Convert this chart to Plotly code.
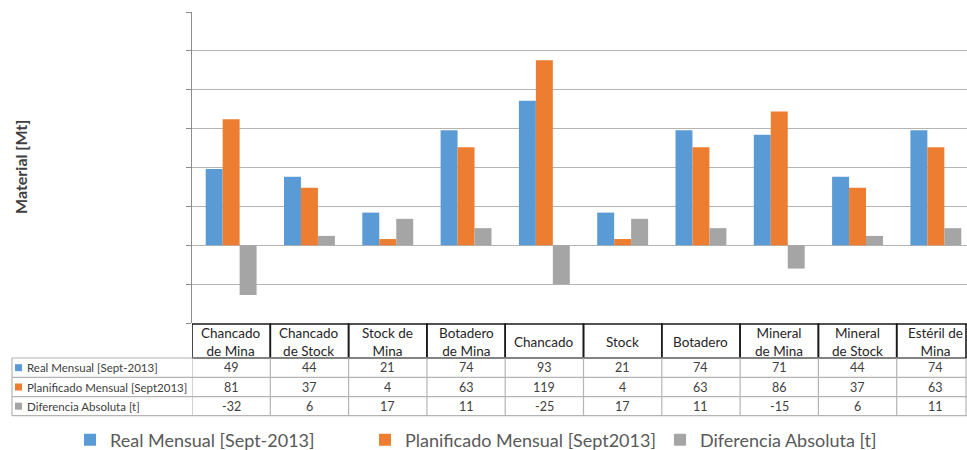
import plotly.graph_objects as go

# Categories and monthly values
categories = ["Chancado<br>de Mina", "Chancado<br>de Stock", "Stock de<br>Mina", "Botadero<br>de Mina",
              "Chancado", "Stock", "Botadero", "Mineral<br>de Mina", "Mineral<br>de Stock", "Estéril de<br>Mina"]
series_names = ["Real Mensual [Sept-2013]", "Planificado Mensual [Sept2013]", "Diferencia Absoluta [t]"]
real_mensual = [49, 44, 21, 74, 93, 21, 74, 71, 44, 74]
planificado_mensual = [81, 37, 4, 63, 119, 4, 63, 86, 37, 63]
diferencia_absoluta = [-32, 6, 17, 11, -25, 17, 11, -15, 6, 11]
colors = ["#5B9BD5", "#ED7D31", "#A5A5A5"]

series_values = [real_mensual, planificado_mensual, diferencia_absoluta]

W, H = 967, 450
ML, MT, MB = 192, 12, 127
PW = W - ML
PH = H - MT - MB
COL_W = 78.3  # width of one category column in px

x_idx = list(range(len(categories)))


def py(px_y):
    """pixel row -> paper y"""
    return (H - MB - px_y) / PH


def px(px_x):
    """pixel column -> paper x"""
    return (px_x - ML) / PW


FONT = "Lato"
TXT = "#404040"

fig = go.Figure()
for name, vals, col in zip(series_names, series_values, colors):
    fig.add_trace(go.Bar(x=x_idx, y=vals, name=name, marker=dict(color=col, line=dict(width=0)),
                         hoverinfo="skip"))

shapes = []
annotations = []

# Table rows (pixel boundaries)
hdr_top, hdr_bot = 324, 358
row_lines = [358, 377.3, 396.7, 415.7]
grid_col = "#B4B4B4"

# Header cells with dark borders
for i in x_idx:
    shapes.append(dict(type="rect", xref="x", yref="paper", x0=i - 0.5, x1=i + 0.5,
                       y0=py(hdr_bot), y1=py(hdr_top), line=dict(color="#1A1A1A", width=1.6),
                       layer="above"))
    annotations.append(dict(xref="x", yref="paper", x=i, y=py((hdr_top + hdr_bot) / 2 + 0.5),
                            text=categories[i], showarrow=False, align="center",
                            xanchor="center", yanchor="middle",
                            font=dict(family=FONT, size=13.5, color="#262626")))

# Data-row horizontal lines across label column and value columns
for ry in row_lines:
    shapes.append(dict(type="line", xref="paper", yref="paper", x0=px(12), x1=1,
                       y0=py(ry), y1=py(ry), line=dict(color=grid_col, width=1.2)))
# Vertical separators in data rows
for xb in [-0.5 + k for k in range(10)]:
    shapes.append(dict(type="line", xref="x", yref="paper", x0=xb, x1=xb,
                       y0=py(row_lines[-1]), y1=py(row_lines[0]), line=dict(color=grid_col, width=1.2)))
for xb_px in [12, W - 1]:
    shapes.append(dict(type="line", xref="paper", yref="paper", x0=px(xb_px), x1=px(xb_px),
                       y0=py(row_lines[-1]), y1=py(row_lines[0]), line=dict(color=grid_col, width=1.2)))
shapes.append(dict(type="line", xref="paper", yref="paper", x0=px(W - 1), x1=px(W - 1),
                   y0=py(hdr_bot), y1=py(hdr_top), line=dict(color="#1A1A1A", width=1.6)))

# Row labels with colour keys, and cell values
for r, (name, vals, col) in enumerate(zip(series_names, series_values, colors)):
    yc = (row_lines[r] + row_lines[r + 1]) / 2
    shapes.append(dict(type="rect", xref="paper", yref="paper", x0=px(15), x1=px(22),
                       y0=py(yc + 3.5), y1=py(yc - 3.5), fillcolor=col, line=dict(width=0)))
    annotations.append(dict(xref="paper", yref="paper", x=px(25), y=py(yc), text=name,
                            showarrow=False, xanchor="left", yanchor="middle",
                            font=dict(family=FONT, size=11.5, color=TXT)))
    for i in x_idx:
        annotations.append(dict(xref="x", yref="paper", x=i, y=py(yc), text=str(vals[i]),
                                showarrow=False, xanchor="center", yanchor="middle",
                                font=dict(family=FONT, size=12.5, color=TXT)))

# Vertical axis title
annotations.append(dict(xref="paper", yref="paper", x=px(20), y=py(167), text="<b>Material [Mt]</b>",
                        showarrow=False, textangle=-90, xanchor="center", yanchor="middle",
                        font=dict(family=FONT, size=16, color=TXT)))

fig.update_layout(
    width=W, height=H,
    margin=dict(l=ML, r=0, t=MT, b=MB, autoexpand=False),
    paper_bgcolor="white", plot_bgcolor="white",
    barmode="group", bargap=0.35, bargroupgap=0,
    font=dict(family=FONT, color=TXT),
    xaxis=dict(range=[-0.5, -0.5 + PW / COL_W], showticklabels=False, showgrid=False,
               zeroline=False, showline=False, ticks=""),
    yaxis=dict(range=[-50, 150], dtick=25, tick0=0, showticklabels=False,
               showgrid=True, gridcolor=grid_col, gridwidth=1.2,
               zeroline=True, zerolinecolor=grid_col, zerolinewidth=1.2,
               showline=True, linecolor="#8C8C8C", linewidth=1.2,
               ticks="outside", ticklen=5, tickcolor="#8C8C8C"),
    legend=dict(orientation="h", x=px(70), xanchor="left", y=py(440), yanchor="middle",
                font=dict(family=FONT, size=18, color="#595959"), itemwidth=30,
                entrywidth=250, bgcolor="rgba(0,0,0,0)"),
    shapes=shapes,
    annotations=annotations,
)

fig.write_html("out.html")
